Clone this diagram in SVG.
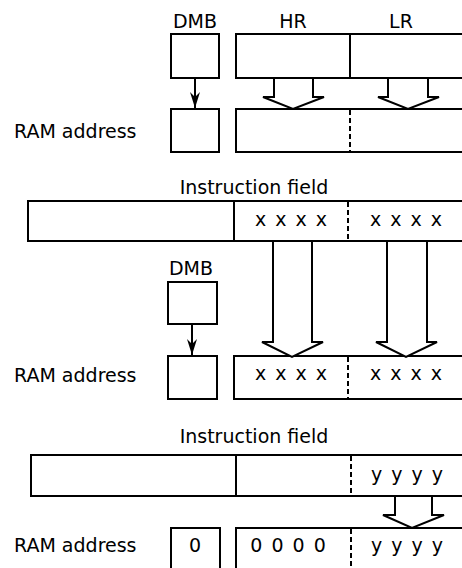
<svg xmlns="http://www.w3.org/2000/svg" width="462" height="568" viewBox="0 0 462 568">
<style>
.b{fill:#fff;stroke:#000;stroke-width:2}
.d{stroke:#000;stroke-width:2;stroke-dasharray:5,3;fill:none}
.s{stroke:#000;stroke-width:2;fill:none}
.w{fill:#fff;stroke:#000;stroke-width:2;stroke-linejoin:miter}
.t{font-family:"DejaVu Sans",sans-serif;font-size:19px;fill:#000}
.c{text-anchor:middle}
.x{word-spacing:3px}
</style>
<defs>
<marker id="ah" viewBox="0 0 16 10" refX="16" refY="5" markerWidth="16" markerHeight="10" markerUnits="userSpaceOnUse" orient="auto">
<path d="M0,0 L16,5 L0,10 L5,5 Z" fill="#000"/>
</marker>
</defs>
<rect width="462" height="568" fill="#fff"/>

<!-- Section 1 -->
<g id="dmb1">
<text class="t c" x="195" y="28">DMB</text>
<rect class="b" x="171" y="34" width="48" height="44"/>
</g>
<g id="hrlr">
<text class="t c" x="293" y="28">HR</text>
<text class="t c" x="401" y="28">LR</text>
<rect class="b" x="236" y="34" width="240" height="44"/>
<line class="s" x1="350" y1="34" x2="350" y2="78"/>
</g>
<g id="ram1">
<text class="t" x="14" y="138">RAM address</text>
<rect class="b" x="171" y="109" width="48" height="43"/>
<rect class="b" x="236" y="109" width="240" height="43"/>
<line class="d" x1="350" y1="110" x2="350" y2="152"/>
</g>

<!-- Section 2 -->
<g id="instr2">
<text class="t c" x="254" y="194">Instruction field</text>
<rect class="b" x="28" y="201" width="450" height="40"/>
<line class="s" x1="234" y1="201" x2="234" y2="241"/>
<line class="d" x1="348" y1="202" x2="348" y2="241"/>
<text class="t c x" x="291" y="226">x x x x</text>
<text class="t c x" x="406" y="226">x x x x</text>
</g>
<g id="dmb2">
<text class="t c" x="191" y="275">DMB</text>
<rect class="b" x="168" y="282" width="49" height="42"/>
</g>
<g id="ram2">
<text class="t" x="14" y="382">RAM address</text>
<rect class="b" x="168" y="356" width="49" height="43"/>
<rect class="b" x="234" y="356" width="240" height="43"/>
<line class="d" x1="348" y1="357" x2="348" y2="399"/>
<text class="t c x" x="291" y="380">x x x x</text>
<text class="t c x" x="406" y="380">x x x x</text>
</g>

<!-- Section 3 -->
<g id="instr3">
<text class="t c" x="254" y="443">Instruction field</text>
<rect class="b" x="31" y="455" width="450" height="41"/>
<line class="s" x1="236" y1="455" x2="236" y2="496"/>
<line class="d" x1="351" y1="456" x2="351" y2="496"/>
<text class="t c x" x="407" y="481">y y y y</text>
</g>
<g id="ram3">
<text class="t" x="14" y="552">RAM address</text>
<rect class="b" x="171" y="528" width="49" height="50"/>
<rect class="b" x="236" y="528" width="240" height="50"/>
<line class="d" x1="351" y1="529" x2="351" y2="568"/>
<text class="t c" x="195" y="552">0</text>
<text class="t c x" x="288" y="552">0 0 0 0</text>
<text class="t c x" x="407" y="552">y y y y</text>
</g>

<g id="connectors">
<line class="s" x1="195" y1="78" x2="195" y2="108" marker-end="url(#ah)"/>
<path class="w" d="M274,79 V97 H263 L293,109 L324,97 H313 V79"/>
<path class="w" d="M388,79 V97 H378 L408,109 L439,97 H428 V79"/>
<line class="s" x1="192" y1="324" x2="192" y2="355" marker-end="url(#ah)"/>
<path class="w" d="M273,242 V342 H262 L292,357 L323,342 H312 V242"/>
<path class="w" d="M387,242 V342 H376 L406,357 L437,342 H427 V242"/>
<path class="w" d="M395,497 V515 H383 L412,528 L444,515 H432 V497"/>
</g>
</svg>
